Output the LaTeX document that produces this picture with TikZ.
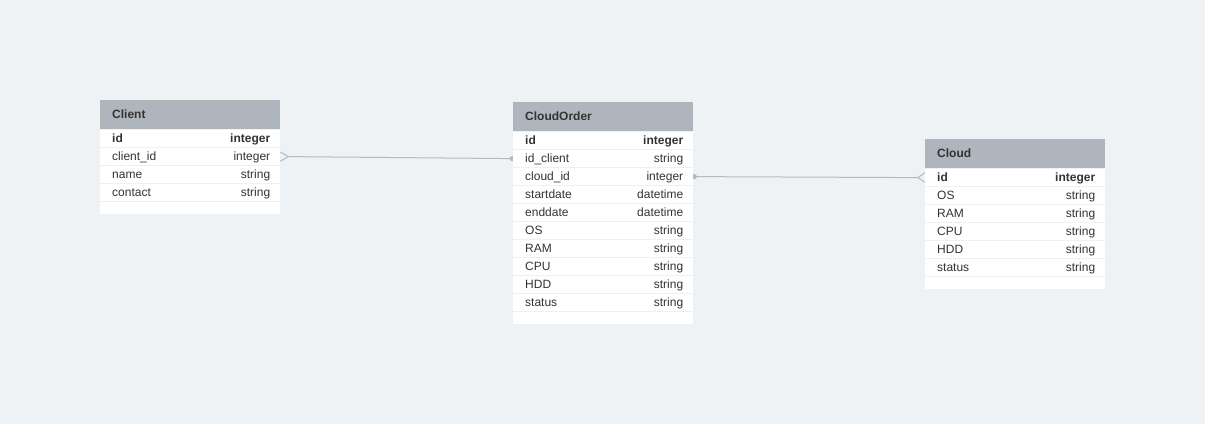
\documentclass[tikz,border=0pt]{standalone}
\usepackage{fontspec}
\setmainfont{Liberation Sans}
\usetikzlibrary{backgrounds}
\definecolor{bgc}{HTML}{EEF2F5}
\definecolor{hdrc}{HTML}{AEB5BC}
\definecolor{txtc}{HTML}{333333}
\definecolor{sepc}{HTML}{EEF0F2}
\definecolor{connc}{HTML}{B2BAC2}
\newcommand\erTable[6]{%
  \node[hdrbox] (#1) at (#2,#3) {};
  \node[titletext] (#1-title) at ([xshift=12pt,yshift=-18pt]#1.north west) {#4};
  \node[bodybox, minimum height={18*#5+12}] (#1-body) at (#1.south west) {};
  \foreach \fn/\ft [count=\i] in {#6} {
    \node[rowbox] (#1-r\i) at ($(#1.south west)+(0,{18*(\i-1)})$) {};
    \ifnum\i=1
      \node[fieldtext, font=\fontsize{12}{14}\selectfont\bfseries] (#1-n\i) at ([xshift=12pt,yshift=-13.5pt]#1-r\i.north west) {\fn};
      \node[typetext, font=\fontsize{12}{14}\selectfont\bfseries] (#1-t\i) at ([xshift=-10pt,yshift=-13.5pt]#1-r\i.north east) {\ft};
    \else
      \node[fieldtext] (#1-n\i) at ([xshift=12pt,yshift=-13.5pt]#1-r\i.north west) {\fn};
      \node[typetext] (#1-t\i) at ([xshift=-10pt,yshift=-13.5pt]#1-r\i.north east) {\ft};
    \fi
    \draw[sepline] (#1-r\i.south west) -- (#1-r\i.south east);
  }
}
\usetikzlibrary{calc}
\begin{document}
\begin{tikzpicture}[x=1pt,y=-1pt,
  font=\fontsize{12}{14}\selectfont,
  hdrbox/.style={rectangle, fill=hdrc, draw=none, minimum width=180pt, minimum height=29pt, inner sep=0pt, anchor=north west},
  bodybox/.style={rectangle, fill=white, draw=none, minimum width=180pt, inner sep=0pt, anchor=north west},
  rowbox/.style={rectangle, draw=none, minimum width=180pt, minimum height=18pt, inner sep=0pt, anchor=north west},
  titletext/.style={anchor=base west, inner sep=0pt, text=txtc, font=\fontsize{12}{14}\selectfont\bfseries},
  fieldtext/.style={anchor=base west, inner sep=0pt, text=txtc},
  typetext/.style={anchor=base east, inner sep=0pt, text=txtc},
  sepline/.style={draw=sepc, line width=1pt},
  connline/.style={draw=connc, line width=1pt},
  conndot/.style={fill=connc}
]
\useasboundingbox (0,0) rectangle (1205,424);

\erTable{client}{100}{100}{Client}{4}{id/integer, client\_id/integer, name/string, contact/string}
\erTable{order}{513}{102}{CloudOrder}{10}{id/integer, id\_client/string, cloud\_id/integer, startdate/datetime, enddate/datetime, OS/string, RAM/string, CPU/string, HDD/string, status/string}
\erTable{cloud}{925}{139}{Cloud}{6}{id/integer, OS/string, RAM/string, CPU/string, HDD/string, status/string}

\begin{pgfonlayer}{background}
  \fill[bgc] (0,0) rectangle (1205,424);
  % Client.client_id  ->  CloudOrder.id_client
  \draw[connline] ([xshift=8pt]client-r2.east) -- (order-r2.west);
  \draw[connline] ([yshift=-4.5pt]client-r2.east) -- ([xshift=8pt]client-r2.east) -- ([yshift=4.5pt]client-r2.east);
  \fill[conndot] ([xshift=-1pt]order-r2.west) circle (2.5pt);
  % CloudOrder.cloud_id  ->  Cloud.id
  \draw[connline] (order-r3.east) -- ([xshift=-7pt]cloud-r1.west);
  \draw[connline] ([yshift=-5pt]cloud-r1.west) -- ([xshift=-7pt]cloud-r1.west) -- ([yshift=5pt]cloud-r1.west);
  \fill[conndot] ([xshift=1pt]order-r3.east) circle (2.5pt);
\end{pgfonlayer}
\end{tikzpicture}
\end{document}
